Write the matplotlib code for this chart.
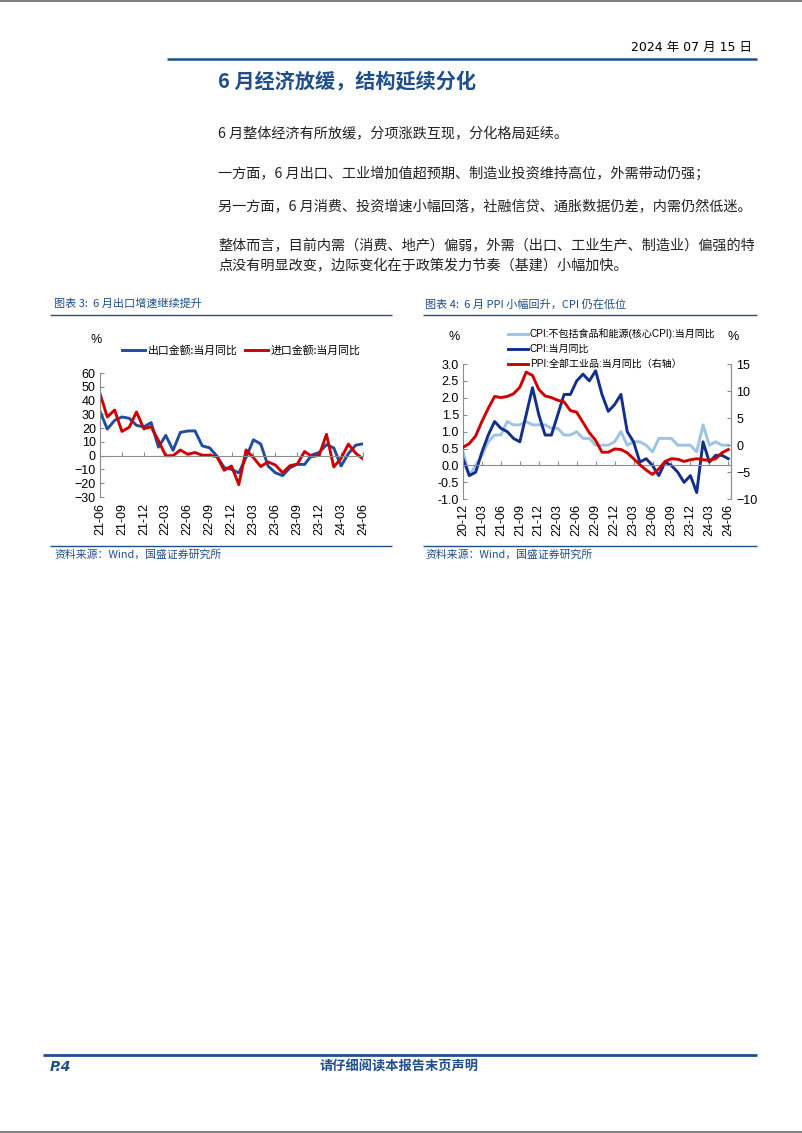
import numpy as np
import matplotlib
matplotlib.use("Agg")
import matplotlib.pyplot as plt
from matplotlib.lines import Line2D

plt.rcParams['font.family'] = ['Liberation Sans', 'Noto Sans CJK SC']

# 图表3 数据: 21-06 ~ 24-06
export_yoy = [32.2, 19.3, 25.6, 28.1, 27.1, 22.0, 20.9,
              24.0, 6.2, 14.7, 3.9, 16.9, 17.9, 18.0, 7.1, 5.7, -0.3, -8.7, -9.9,
              -12.5, -1.3, 11.5, 8.5, -7.5, -12.4, -14.5, -8.8, -6.2, -6.4, 0.5, 2.3,
              8.0, 5.6, -7.5, 1.5, 7.6, 8.6]
import_yoy = [45.0, 28.1, 33.1, 17.6, 20.6, 31.7, 19.5,
              21.0, 11.0, -0.1, 0.0, 4.1, 1.0, 2.3, 0.3, 0.3, -0.7, -10.6, -7.5,
              -21.0, 4.2, -1.4, -7.9, -4.5, -6.8, -12.4, -7.3, -6.2, 3.0, -0.6, 0.2,
              15.5, -8.2, -1.9, 8.4, 1.8, -2.3]
ticks3 = ['21-06', '21-09', '21-12', '22-03', '22-06', '22-09', '22-12',
          '23-03', '23-06', '23-09', '23-12', '24-03', '24-06']

# 图表4 数据: 20-12 ~ 24-06
core_cpi = [0.4,
            -0.3, 0.0, 0.3, 0.7, 0.9, 0.9, 1.3, 1.2, 1.2, 1.3, 1.2, 1.2,
            1.2, 1.1, 1.1, 0.9, 0.9, 1.0, 0.8, 0.8, 0.6, 0.6, 0.6, 0.7,
            1.0, 0.6, 0.7, 0.7, 0.6, 0.4, 0.8, 0.8, 0.8, 0.6, 0.6, 0.6,
            0.4, 1.2, 0.6, 0.7, 0.6, 0.6]
cpi = [0.2,
       -0.3, -0.2, 0.4, 0.9, 1.3, 1.1, 1.0, 0.8, 0.7, 1.5, 2.3, 1.5,
       0.9, 0.9, 1.5, 2.1, 2.1, 2.5, 2.7, 2.5, 2.8, 2.1, 1.6, 1.8,
       2.1, 1.0, 0.7, 0.1, 0.2, 0.0, -0.3, 0.1, 0.0, -0.2, -0.5, -0.3,
       -0.8, 0.7, 0.1, 0.3, 0.3, 0.2]
ppi = [-0.4,
       0.3, 1.7, 4.4, 6.8, 9.0, 8.8, 9.0, 9.5, 10.7, 13.5, 12.9, 10.3,
       9.1, 8.8, 8.3, 8.0, 6.4, 6.1, 4.2, 2.3, 0.9, -1.3, -1.3, -0.7,
       -0.8, -1.4, -2.5, -3.6, -4.6, -5.4, -4.4, -3.0, -2.5, -2.6, -3.0, -2.7,
       -2.5, -2.7, -2.8, -2.5, -1.4, -0.8]
ticks4 = ['20-12', '21-03', '21-06', '21-09', '21-12', '22-03', '22-06', '22-09',
          '22-12', '23-03', '23-06', '23-09', '23-12', '24-03', '24-06']

body_lines = [
    "6 月整体经济有所放缓，分项涨跌互现，分化格局延续。",
    "一方面，6 月出口、工业增加值超预期、制造业投资维持高位，外需带动仍强；",
    "另一方面，6 月消费、投资增速小幅回落，社融信贷、通胀数据仍差，内需仍然低迷。",
    "整体而言，目前内需（消费、地产）偏弱，外需（出口、工业生产、制造业）偏强的特",
    "点没有明显改变，边际变化在于政策发力节奏（基建）小幅加快。",
]
body_y = [134, 174, 207, 246, 266]

W, H = 802, 1133
NAVY = '#1F4E8C'
BLUE1 = '#1F4E9E'
BLUE2 = '#12308A'
LIGHT = '#9DC3E6'
RED = '#D00000'
GRAY = '#8C8C8C'
CJK = ['Noto Sans CJK SC', 'DejaVu Sans']
LAT = ['DejaVu Sans', 'Noto Sans CJK SC']


def fx(x):
    return x / W


def fy(y):
    return 1 - y / H


def hline(fig, x1, x2, y, color, lw):
    fig.add_artist(Line2D([fx(x1), fx(x2)], [fy(y), fy(y)], transform=fig.transFigure,
                          color=color, lw=lw, solid_capstyle='butt'))


fig = plt.figure(figsize=(W / 100, H / 100), dpi=100)

# 页面边框线
hline(fig, 0, W, 1, '#808080', 1.5)
hline(fig, 0, W, H - 1.5, '#808080', 1.5)

# 页眉
fig.text(fx(752), fy(47), "2024 年 07 月 15 日", ha='right', va='center', fontsize=9,
         family=LAT, color='black')
hline(fig, 167, 757, 59, NAVY, 1.8)
fig.text(fx(218), fy(82), "6 月经济放缓，结构延续分化", ha='left', va='center', fontsize=14.5,
         family=CJK, fontweight='bold', color=NAVY)

for s, y in zip(body_lines, body_y):
    fig.text(fx(218), fy(y), s, ha='left', va='center', fontsize=10.2, family=CJK, color='#222222')

# 图表标题与来源
fig.text(fx(54), fy(304), "图表 3:  6 月出口增速继续提升", ha='left', va='center', fontsize=8,
         family=CJK, color=NAVY, style='italic')
fig.text(fx(425), fy(304), "图表 4:  6 月 PPI 小幅回升，CPI 仍在低位", ha='left', va='center', fontsize=8,
         family=CJK, color=NAVY, style='italic')
hline(fig, 50, 392, 315, NAVY, 1.0)
hline(fig, 423, 757, 315, NAVY, 1.0)
hline(fig, 50, 392, 546, NAVY, 1.0)
hline(fig, 423, 757, 546, NAVY, 1.0)
fig.text(fx(54), fy(555), "资料来源：Wind，国盛证券研究所", ha='left', va='center', fontsize=7.8,
         family=CJK, color=NAVY, style='italic')
fig.text(fx(425), fy(555), "资料来源：Wind，国盛证券研究所", ha='left', va='center', fontsize=7.8,
         family=CJK, color=NAVY, style='italic')

# 页脚
hline(fig, 43, 757, 1055, NAVY, 2.0)
fig.text(fx(50), fy(1067), "P.4", ha='left', va='center', fontsize=10, family=LAT,
         fontweight='bold', style='italic', color=NAVY)
fig.text(fx(399), fy(1067), "请仔细阅读本报告末页声明", ha='center', va='center', fontsize=9.5,
         family=CJK, fontweight='bold', color=NAVY)

# ---------- 图表3 ----------
ax1 = fig.add_axes([fx(100), fy(497), (363 - 100) / W, (497 - 373) / H])
x1 = np.arange(len(export_yoy))
ax1.plot(x1, export_yoy, color=BLUE1, lw=2.1, solid_joinstyle='round')
ax1.plot(x1, import_yoy, color=RED, lw=2.1, solid_joinstyle='round')
ax1.spines['bottom'].set_position(('data', 0))
ax1.set_xlim(0, len(export_yoy) - 1)
ax1.set_ylim(-30, 60)
ax1.set_yticks(np.arange(-30, 61, 10))
ax1.set_xticks(np.arange(0, len(export_yoy), 3))
ax1.set_xticklabels(ticks3)
for sp in ['top', 'right']:
    ax1.spines[sp].set_visible(False)
for sp in ['left', 'bottom']:
    ax1.spines[sp].set_color(GRAY)
    ax1.spines[sp].set_linewidth(0.8)
ax1.tick_params(axis='y', direction='in', length=3, color=GRAY, labelsize=9, pad=3)
ax1.tick_params(axis='x', direction='in', length=3, color=GRAY, labelsize=9, pad=34,
                labelrotation=90)
ax1.patch.set_alpha(0)

fig.text(fx(96), fy(340), "%", ha='center', va='center', fontsize=9)
fig.add_artist(Line2D([fx(122), fx(145)], [fy(350), fy(350)], transform=fig.transFigure, color=BLUE1, lw=2.1))
fig.text(fx(148), fy(350), "出口金额:当月同比", ha='left', va='center', fontsize=7.8, family=CJK)
fig.add_artist(Line2D([fx(245), fx(268)], [fy(350), fy(350)], transform=fig.transFigure, color=RED, lw=2.1))
fig.text(fx(271), fy(350), "进口金额:当月同比", ha='left', va='center', fontsize=7.8, family=CJK)

# ---------- 图表4 ----------
ax2 = fig.add_axes([fx(463), fy(499.3), (731 - 463) / W, (499.3 - 364) / H])
x2 = np.arange(len(cpi))
ax2.plot(x2, core_cpi, color=LIGHT, lw=2.1, solid_joinstyle='round')
ax2.plot(x2, cpi, color=BLUE2, lw=2.1, solid_joinstyle='round')
ax2.spines['bottom'].set_position(('data', 0))
span = (len(cpi) - 1) * (731 - 463) / (728.3 - 463)
ax2.set_xlim(0, span)
ax2.set_ylim(-1.0, 3.0)
ax2.set_yticks(np.arange(-1.0, 3.01, 0.5))
ax2.set_yticklabels([f"{v:.1f}" for v in np.arange(-1.0, 3.01, 0.5)])
ax2.set_xticks(np.arange(0, len(cpi), 3))
ax2.set_xticklabels(ticks4)
ax2.spines['top'].set_visible(False)
for sp in ['left', 'bottom', 'right']:
    ax2.spines[sp].set_color(GRAY)
    ax2.spines[sp].set_linewidth(0.8)
ax2.tick_params(axis='y', direction='in', length=3, color=GRAY, labelsize=9, pad=3)
ax2.tick_params(axis='x', direction='in', length=3, color=GRAY, labelsize=9, pad=28,
                labelrotation=90)

ax3 = ax2.twinx()
ax3.plot(x2, ppi, color=RED, lw=2.1, solid_joinstyle='round')
ax3.set_ylim(-10, 15)
ax3.set_yticks(np.arange(-10, 16, 5))
for sp in ['top', 'bottom', 'left']:
    ax3.spines[sp].set_visible(False)
ax3.spines['right'].set_color(GRAY)
ax3.spines['right'].set_linewidth(0.8)
ax3.tick_params(axis='y', direction='in', length=3, color=GRAY, labelsize=9, pad=4)

fig.text(fx(454), fy(337), "%", ha='center', va='center', fontsize=9)
fig.text(fx(733), fy(337), "%", ha='center', va='center', fontsize=9)
leg4 = [(LIGHT, "CPI:不包括食品和能源(核心CPI):当月同比", 334),
        (BLUE2, "CPI:当月同比", 349),
        (RED, "PPI:全部工业品:当月同比（右轴）", 364)]
for c, s, y in leg4:
    fig.add_artist(Line2D([fx(508), fx(528)], [fy(y), fy(y)], transform=fig.transFigure, color=c, lw=2.1))
    fig.text(fx(530), fy(y), s, ha='left', va='center', fontsize=7.2)

fig.savefig("out.png", dpi=100)
